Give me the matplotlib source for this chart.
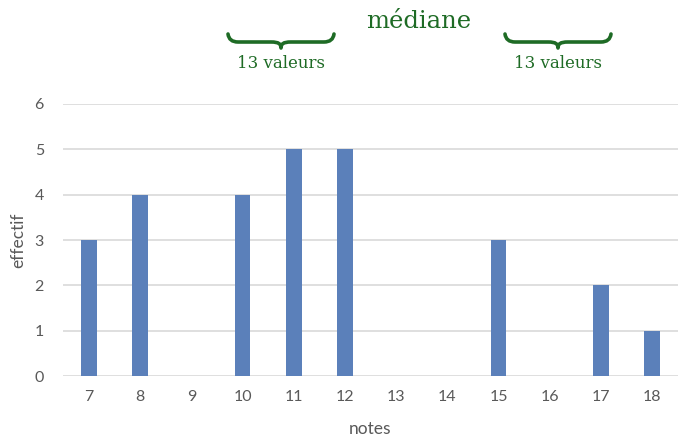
import matplotlib
matplotlib.use("Agg")
import matplotlib.pyplot as plt
from matplotlib.path import Path
from matplotlib.patches import PathPatch

categories = ["7", "8", "9", "10", "11", "12", "13", "14", "15", "16", "17", "18"]
counts = [3, 4, 0, 4, 5, 5, 0, 0, 3, 0, 2, 1]
y_ticks = [0, 1, 2, 3, 4, 5, 6]
x_label = "notes"
y_label = "effectif"
title_text = "médiane"
brace_text = "13 valeurs"

W, H = 680, 436
fig = plt.figure(figsize=(W / 100, H / 100), dpi=100)
ax = fig.add_axes([63.4 / W, (H - 376) / H, (677.6 - 63.4) / W, (376 - 104) / H])

bar_color = "#5b80ba"
grid_color = "#d9d9d9"
text_color = "#595959"
green = "#1e6b25"
sans = ["Lato", "DejaVu Sans"]

x = list(range(len(categories)))
ax.bar(x, counts, width=0.31, color=bar_color, zorder=3)
ax.set_xlim(-0.5, len(categories) - 0.5)
ax.set_ylim(0, 6)
ax.set_yticks(y_ticks)
ax.set_xticks(x)
ax.set_xticklabels(categories)
for s in ax.spines.values():
    s.set_visible(False)
ax.grid(axis="y", color=grid_color, linewidth=1.2, zorder=0)
ax.tick_params(axis="both", length=0, colors=text_color, labelsize=11.5)
ax.tick_params(axis="y", pad=14)
ax.tick_params(axis="x", pad=10)
for lab in ax.get_xticklabels() + ax.get_yticklabels():
    lab.set_family(sans)
ax.set_xlabel(x_label, family=sans, fontsize=12.5, color=text_color, labelpad=12)
ax.set_ylabel(y_label, family=sans, fontsize=12.5, color=text_color, labelpad=6)

# overlay in pixel coordinates for annotations
ov = fig.add_axes([0, 0, 1, 1], zorder=5)
ov.set_xlim(0, W)
ov.set_ylim(H, 0)
ov.axis("off")
ov.patch.set_alpha(0)


def brace(x0, x1, ytop, ymid, ytip):
    xc = (x0 + x1) / 2
    q = 10
    verts = [
        (x0, ytop), (x0 + 1, ymid), (x0 + q, ymid),
        (xc - q, ymid),
        (xc - 2, ymid), (xc, ymid + 2), (xc, ytip),
        (xc, ymid + 2), (xc + 2, ymid), (xc + q, ymid),
        (x1 - q, ymid),
        (x1 - 1, ymid), (x1, ytop),
    ]
    codes = [Path.MOVETO, Path.CURVE3, Path.CURVE3,
             Path.LINETO,
             Path.CURVE4, Path.CURVE4, Path.CURVE4,
             Path.CURVE4, Path.CURVE4, Path.CURVE4,
             Path.LINETO,
             Path.CURVE3, Path.CURVE3]
    p = PathPatch(Path(verts, codes), facecolor="none", edgecolor=green,
                  linewidth=2.6, capstyle="round", joinstyle="round")
    ov.add_patch(p)


brace(228, 334, 34, 42, 48)
brace(505, 611, 34, 42, 48)
ov.text(281, 63, brace_text, family="DejaVu Serif", fontsize=12, color=green,
        ha="center", va="center")
ov.text(558, 63, brace_text, family="DejaVu Serif", fontsize=12, color=green,
        ha="center", va="center")
ov.text(419, 22, title_text, family="DejaVu Serif", fontsize=17.5, color=green,
        ha="center", va="center")

fig.savefig("out.png", dpi=100)
